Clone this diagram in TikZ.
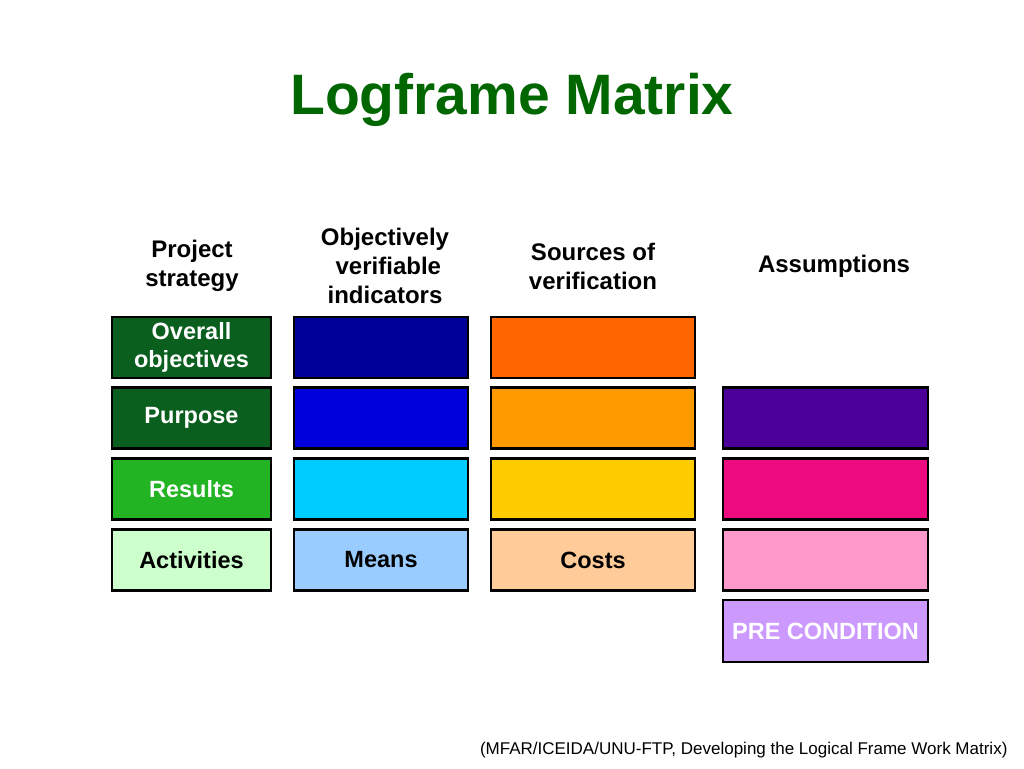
\documentclass[tikz,border=0pt]{standalone}
\usepackage{fontspec}
\setmainfont{Liberation Sans}
\begin{document}
\begin{tikzpicture}[x=1pt,y=-1pt,
 cell/.style={draw=black,line width=2.5pt,minimum height=61pt,inner sep=0pt,font=\fontsize{23.5}{28}\selectfont\bfseries,align=center},
 hdr/.style={font=\fontsize{24}{29}\selectfont\bfseries,align=center}]
\useasboundingbox (0,0) rectangle (1024,768);
\definecolor{dg}{HTML}{0A5E1E}\definecolor{lg}{HTML}{22B422}\definecolor{pg}{HTML}{CCFFCC}
\definecolor{b1}{HTML}{000099}\definecolor{b2}{HTML}{0000DD}\definecolor{b3}{HTML}{00CCFF}\definecolor{b4}{HTML}{99CCFF}
\definecolor{o1}{HTML}{FF6600}\definecolor{o2}{HTML}{FF9900}\definecolor{o3}{HTML}{FFCC00}\definecolor{o4}{HTML}{FFCC99}
\definecolor{p1}{HTML}{4B0099}\definecolor{p2}{HTML}{EE0A80}\definecolor{p3}{HTML}{FF99CC}\definecolor{p4}{HTML}{CC99FF}
\definecolor{tg}{HTML}{006600}
\node[font=\fontsize{57}{62}\selectfont\bfseries,text=tg] (title) at (512,100) {Logframe Matrix};
\node[hdr] (h1) at (192,266) {Project\\strategy};
\node[hdr] (h2) at (385,266) {Objectively\\\ verifiable\\indicators};
\node[hdr] (h3) at (593,266) {Sources of\\verification};
\node[hdr] (h4) at (834,266) {Assumptions};
\node[cell,fill=dg,text=white,minimum width=159pt] (a1) at (191.5,347.5) {Overall\\objectives};
\node[cell,fill=dg,text=white,minimum width=159pt] (a2) at (191.5,418) {Purpose};
\node[cell,fill=lg,text=white,minimum width=159pt] (a3) at (191.5,489) {Results};
\node[cell,fill=pg,minimum width=159pt] (a4) at (191.5,560) {Activities};
\node[cell,fill=b1,minimum width=174pt] (b1n) at (381,347.5) {};
\node[cell,fill=b2,minimum width=174pt] (b2n) at (381,418) {};
\node[cell,fill=b3,minimum width=174pt] (b3n) at (381,489) {};
\node[cell,fill=b4,minimum width=174pt] (b4n) at (381,560) {Means};
\node[cell,fill=o1,minimum width=204pt] (c1) at (593,347.5) {};
\node[cell,fill=o2,minimum width=204pt] (c2) at (593,418) {};
\node[cell,fill=o3,minimum width=204pt] (c3) at (593,489) {};
\node[cell,fill=o4,minimum width=204pt] (c4) at (593,560) {Costs};
\node[cell,fill=p1,minimum width=205pt] (d1) at (825.5,418) {};
\node[cell,fill=p2,minimum width=205pt] (d2) at (825.5,489) {};
\node[cell,fill=p3,minimum width=205pt] (d3) at (825.5,560) {};
\node[cell,fill=p4,text=white,minimum width=205pt,minimum height=62pt] (d4) at (825.5,631) {PRE CONDITION};
\node[font=\fontsize{17}{19}\selectfont,anchor=east] (src) at (1011,750) {(MFAR/ICEIDA/UNU-FTP, Developing the Logical Frame Work Matrix)};
\end{tikzpicture}
\end{document}
